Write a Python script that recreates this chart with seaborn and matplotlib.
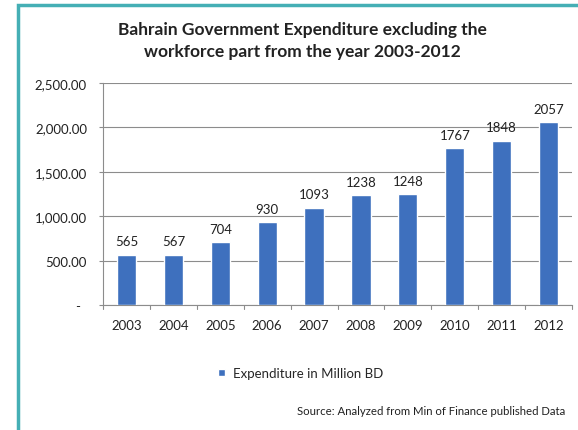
import numpy as np
import pandas as pd
import seaborn as sns
from matplotlib import pyplot as plt
from matplotlib.patches import Rectangle
from matplotlib.ticker import FuncFormatter
from matplotlib.transforms import ScaledTranslation

sns.set_style('white')
plt.rcParams['font.family'] = ['Lato', 'DejaVu Sans']

years = ['2003', '2004', '2005', '2006', '2007', '2008', '2009', '2010', '2011', '2012']
expenditure = [565, 567, 704, 930, 1093, 1238, 1248, 1767, 1848, 2057]
series_name = 'Expenditure in Million BD'

df = pd.DataFrame({'Year': years, 'Expenditure': expenditure})

fig = plt.figure(figsize=(5.78, 4.31), dpi=100)
ax = fig.add_axes([103/578, 1 - 306/431, (572-103)/578, (306-84)/431])

sns.barplot(data=df, x='Year', y='Expenditure', color='#3E70BE', width=0.41,
            saturation=1, ax=ax, label=series_name, zorder=3)

ax.set_ylim(0, 2500)
ax.set_yticks(np.arange(0, 2501, 500))
ax.yaxis.set_major_formatter(FuncFormatter(lambda v, p: '-' if v == 0 else f'{v:,.2f}'))
ax.grid(axis='y', color='#8C8C8C', linewidth=0.8, zorder=0)
ax.set_xlabel('')
ax.set_ylabel('')
for s in ['top', 'right']:
    ax.spines[s].set_visible(False)
ax.spines['left'].set_color('#8C8C8C')
ax.spines['bottom'].set_color('#8C8C8C')
ax.tick_params(axis='x', labelsize=9.5, colors='#222222', length=0, pad=10)
ax.tick_params(axis='y', labelsize=9.5, colors='#222222', direction='out', length=3,
               color='#8C8C8C', width=0.8, pad=8.5, left=True)
# shift the "-" zero label a bit left like the excel accounting format
fig.canvas.draw()
zero_lbl = ax.get_yticklabels()[0]
zero_lbl.set_transform(zero_lbl.get_transform() + ScaledTranslation(-7/100, 0, fig.dpi_scale_trans))

# category separator ticks on x axis
for i in range(11):
    ax.plot([i - 0.5, i - 0.5], [0, -50], color='#8C8C8C', lw=0.8, clip_on=False)
ax.set_xlim(-0.5, 9.5)

for i, v in enumerate(expenditure):
    ax.text(i, v + 85, str(v), ha='center', va='bottom', fontsize=9.5, color='#222222')

ax.legend(loc='upper center', bbox_to_anchor=(0.422, -0.225), frameon=False,
          fontsize=9.5, handlelength=0.55, handleheight=0.45, handletextpad=0.6)

fig.text(302/578, 1 - 41/431, 'Bahrain Government Expenditure excluding the\nworkforce part from the year 2003-2012',
         ha='center', va='center', fontsize=12.5, fontweight='bold', linespacing=1.45, color='#222222')
fig.text(565/578, 1 - 412/431, 'Source: Analyzed from Min of Finance published Data',
         ha='right', va='center', fontsize=8.2, color='#222222')

fig.patches.append(Rectangle((18/578, -0.1), 1.2, 1 - 5.5/431 + 0.1, transform=fig.transFigure,
                             fill=False, edgecolor='#45AFB5', linewidth=2.5))

fig.savefig('out.png', dpi=100)
